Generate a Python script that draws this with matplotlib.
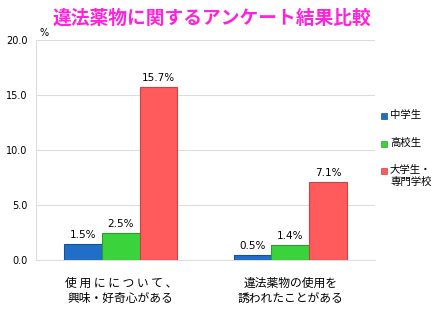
import matplotlib.pyplot as plt
import numpy as np

plt.rcParams['font.family'] = ['Noto Sans CJK JP', 'DejaVu Sans']

# アンケート項目と回答者区分
categories = ["使 用 に に つ い て 、\n興味・好奇心がある", "違法薬物の使用を\n誘われたことがある"]
groups = ["中学生", "高校生", "大学生・\n専門学校"]
values = {
    "中学生": [1.5, 0.5],
    "高校生": [2.5, 1.4],
    "大学生・\n専門学校": [15.7, 7.1],
}
colors = ["#1f6fc9", "#3bd33b", "#ff5a5c"]
edges = ["#155199", "#2a9e2a", "#c94346"]

fig = plt.figure(figsize=(4.48, 3.36), dpi=100)
ax = fig.add_axes([36 / 448, 76 / 336, 339 / 448, 220 / 336])

x = np.arange(len(categories))
w = 0.222
for i, g in enumerate(groups):
    bars = ax.bar(x + (i - 1) * w, values[g], w, color=colors[i],
                  edgecolor=edges[i], linewidth=0.8, zorder=3)
    for b, v in zip(bars, values[g]):
        ax.text(b.get_x() + b.get_width() / 2, v + 0.35, f"{v}%",
                ha="center", va="bottom", fontsize=7.5, family="DejaVu Sans")

ax.set_xlim(-0.5, 1.5)
ax.set_ylim(0, 20)
ax.set_yticks([0, 5, 10, 15, 20])
ax.set_yticklabels([f"{t:.1f}" for t in [0, 5, 10, 15, 20]], fontsize=7,
                   family="DejaVu Sans")
ax.set_xticks(x)
ax.set_xticklabels(categories, fontsize=8.5, linespacing=1.25)
ax.tick_params(length=0)
ax.tick_params(axis="x", pad=12)
ax.tick_params(axis="y", pad=6)
ax.grid(axis="y", color="#dddddd", linewidth=0.8, zorder=0)
for s in ["top", "right"]:
    ax.spines[s].set_visible(False)
ax.spines["left"].set_color("#dddddd")
ax.spines["bottom"].set_color("#dddddd")

ax.text(0.01, 1.01, "%", transform=ax.transAxes, fontsize=7,
        family="DejaVu Sans", ha="left", va="bottom")

# 凡例
ly = [116, 144, 171]
for yy, g, c, e in zip(ly, groups, colors, edges):
    fig.patches.append(plt.Rectangle((381 / 448, 1 - (yy + 3) / 336), 6 / 448, 6 / 336,
                                     transform=fig.transFigure, facecolor=c,
                                     edgecolor=e, linewidth=0.5))
    fig.text(390 / 448, 1 - (yy - 6) / 336, g, fontsize=7.5, va="top", ha="left",
             linespacing=1.2)

fig.text(212 / 448, 1 - 18 / 336, "違法薬物に関するアンケート結果比較", color="#ff22dd",
         fontsize=13.5, fontweight="bold", ha="center", va="center")

fig.savefig("out.png", dpi=100)
